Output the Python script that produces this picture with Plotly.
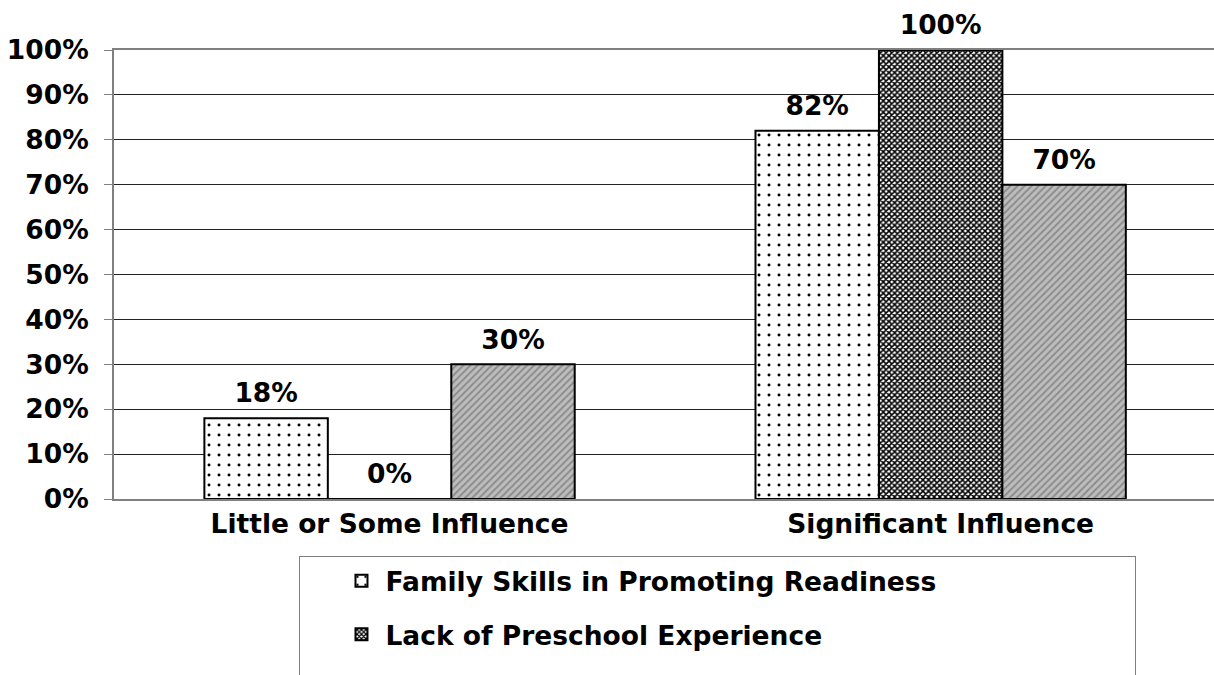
import plotly.graph_objects as go

categories = ["Little or Some Influence", "Significant Influence"]
series_names = [
    "Family Skills in Promoting Readiness",
    "Lack of Preschool Experience",
    "Family Circumstances and the Home Environment",
]
family_skills = [0.18, 0.82]
lack_preschool = [0.00, 1.00]
third_factor = [0.30, 0.70]
y_ticks = [0, 0.1, 0.2, 0.3, 0.4, 0.5, 0.6, 0.7, 0.8, 0.9, 1.0]

FONT = dict(family="DejaVu Sans", size=26.5, color="black", weight="bold")

patterns = [
    dict(shape=".", size=10, solidity=0.07, fgcolor="black", bgcolor="white", fillmode="replace"),
    dict(shape="x", size=4, solidity=0.62, fgcolor="black", bgcolor="white", fillmode="replace"),
    dict(shape="/", size=5, solidity=0.4, fgcolor="#8c8c8c", bgcolor="#bdbdbd", fillmode="replace"),
]
values = [family_skills, lack_preschool, third_factor]
groups = ["g1", "g2", "g3"]

fig = go.Figure()
for name, vals, pat, g in zip(series_names, values, patterns, groups):
    fig.add_trace(go.Bar(
        x=categories, y=vals, name=name, offsetgroup=g, legendgroup=g,
        marker=dict(color="white", pattern=pat, line=dict(color="black", width=2)),
    ))
for name, vals, g in zip(series_names, values, groups):
    fig.add_trace(go.Scatter(
        x=categories, y=vals, mode="markers+text", offsetgroup=g, legendgroup=g,
        showlegend=False, hoverinfo="skip",
        marker=dict(size=13, opacity=0),
        text=[f"{v:.0%}" for v in vals], textposition="top center",
        textfont=FONT, cliponaxis=False,
    ))

fig.update_layout(
    width=1214, height=675,
    margin=dict(l=114, r=0, t=50, b=176, autoexpand=False),
    paper_bgcolor="white", plot_bgcolor="white",
    barmode="group", bargap=0.328, bargroupgap=0,
    scattermode="group",
    font=FONT,
    showlegend=True,
    legend=dict(
        x=0.168, y=-0.127, xanchor="left", yanchor="top",
        bordercolor="#7f7f7f", borderwidth=1, bgcolor="white",
        font=FONT, tracegroupgap=16, traceorder="grouped",
        itemwidth=38,
        title=dict(text="\u00a0" * 3, side="left", font=FONT),
    ),
    xaxis=dict(
        range=[-0.5, 1.496], showline=True, linecolor="#808080", linewidth=2,
        mirror=True, ticks="", showgrid=False, tickfont=FONT,
    ),
    yaxis=dict(
        range=[0, 1], tickvals=y_ticks, tickformat=".0%", showline=True,
        linecolor="#808080", linewidth=2, ticks="outside", ticklen=8,
        tickcolor="#808080", tickwidth=1, showgrid=True, gridcolor="#222222",
        gridwidth=1, zeroline=False, tickfont=FONT, ticklabelstandoff=10,
    ),
)

fig.write_html(
    "out.html",
    config={"displayModeBar": False},
    post_script="document.body.style.margin='0';document.body.style.overflow='hidden';",
)
